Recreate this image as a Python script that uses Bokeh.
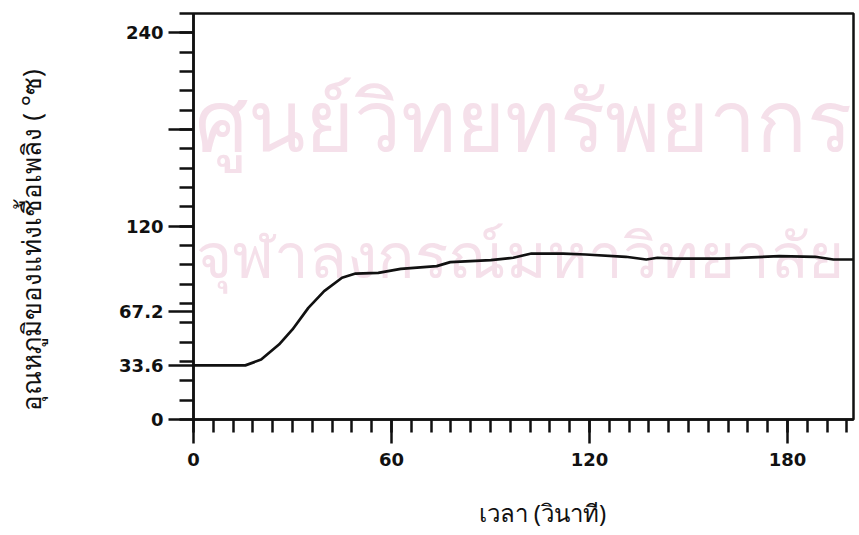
from bokeh.plotting import figure
from bokeh.models import FixedTicker, Label, LinearAxis, Range1d, Title
from bokeh.embed import file_html
from bokeh.resources import INLINE

# Fuel-rod temperature against time
time_s = [0, 5, 10, 15.7, 20.5, 25.9, 30, 34.8, 39.6, 45, 49.1, 56, 62.8,
          73.7, 77.8, 90.1, 96.9, 102.4, 112, 118.8, 131, 137.2, 140.6, 146,
          159.7, 177.5, 188.4, 193.9, 200]
temp_c = [33.6, 33.6, 33.6, 33.6, 37.2, 46.5, 55.9, 69.3, 79.7, 88, 90.6, 91, 93.5,
          95.2, 97.7, 98.9, 100.4, 103, 103, 102.4, 101, 99.3, 100.4, 99.8,
          99.8, 101.4, 101, 99.3, 99.3]

# Axis ticks and labels
x_major = [0, 60, 120, 180]
x_minor = list(range(0, 200, 6))
y_major = [0, 33.6, 67.2, 120, 180, 240]
y_labels = ["0", "33.6", "67.2", "120", "", "240"]
y_minor = list(range(0, 253, 12))

x_title = "เวลา (วินาที)"
y_title = "อุณหภูมิของแท่งเชื้อเพลิง  ( °ซ)"
watermark = ["ศูนย์วิทยทรัพยากร", "จุฬาลงกรณ์มหาวิทยาลัย"]

INK = "#111111"
TITLE_FONT = "Noto Sans"
X_END, Y_END = 200, 252

p = figure(width=859, height=535, x_range=Range1d(0, X_END), y_range=Range1d(0, Y_END),
           output_backend="svg", toolbar_location=None,
           min_border_left=193, min_border_right=6, min_border_top=13,
           min_border_bottom=116)
p.background_fill_color = "white"
p.border_fill_color = "white"
p.outline_line_color = INK
p.outline_line_width = 2.5
p.xgrid.visible = False
p.ygrid.visible = False

# faint library watermark behind the trace
for txt, xd, yd, size in zip(watermark, [100, 99], [187, 103], ["84px", "62px"]):
    p.add_layout(Label(x=xd, y=yd, text=txt, text_align="center",
                       text_baseline="alphabetic", text_font=TITLE_FONT,
                       text_font_size=size, text_color="#f5e0ea", level="underlay"))

p.line(time_s, temp_c, line_color=INK, line_width=2.7)

for ax in (p.xaxis[0], p.yaxis[0]):
    ax.axis_line_color = INK
    ax.axis_line_width = 2.5
    ax.major_tick_line_color = INK
    ax.major_tick_line_width = 2.5
    ax.minor_tick_line_color = INK
    ax.minor_tick_line_width = 2.5
    ax.major_tick_in = 0
    ax.minor_tick_in = 0
    ax.major_label_text_font = "DejaVu Sans"
    ax.major_label_text_font_style = "bold"
    ax.major_label_text_font_size = "18px"
    ax.major_label_text_color = INK

p.xaxis.ticker = FixedTicker(ticks=x_major, minor_ticks=x_minor)
p.xaxis.major_tick_out = 24
p.xaxis.minor_tick_out = 13
p.xaxis.major_label_standoff = 9

p.yaxis.ticker = FixedTicker(ticks=y_major, minor_ticks=y_minor)
p.yaxis.major_label_overrides = {t: s for t, s in zip(y_major, y_labels)}
p.yaxis.major_tick_out = 25
p.yaxis.minor_tick_out = 14
p.yaxis.major_label_standoff = 5


def gap_axis(px, at):
    """A blank axis whose single white tick only reserves px pixels of panel room."""
    return LinearAxis(ticker=FixedTicker(ticks=[at]), axis_line_color=None,
                      major_tick_line_color="white", minor_tick_line_color=None,
                      major_tick_in=0, major_tick_out=px, minor_tick_in=0,
                      minor_tick_out=0, major_label_standoff=0,
                      major_label_overrides={at: ""},
                      major_label_text_font_size="1px",
                      major_label_text_color=None)


# axis titles, set a little away from the tick labels
p.add_layout(gap_axis(27, X_END), "below")
p.add_layout(Title(text=x_title, align="left", offset=285, standoff=0,
                   vertical_align="top", text_font=TITLE_FONT,
                   text_font_size="24px", text_font_style="normal",
                   text_color=INK), "below")

p.add_layout(gap_axis(66, Y_END), "left")
p.add_layout(Title(text=y_title, align="left", offset=9, standoff=0,
                   vertical_align="top", text_font=TITLE_FONT,
                   text_font_size="26px", text_font_style="normal",
                   text_color=INK), "left")

open("out.html", "w").write(file_html(p, INLINE))
